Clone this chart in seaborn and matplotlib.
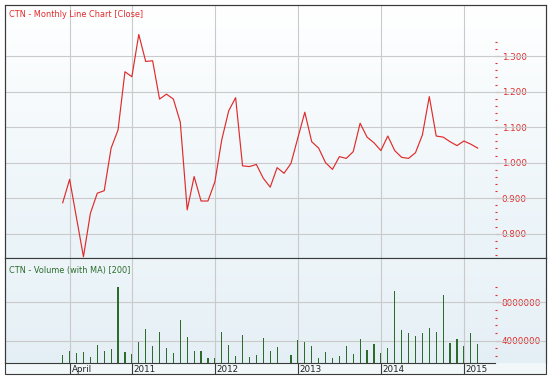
import numpy as np
import pandas as pd
import matplotlib
matplotlib.use("Agg")
import matplotlib.pyplot as plt
import matplotlib.ticker as mticker
import matplotlib.transforms as mtransforms
from matplotlib.colors import LinearSegmentedColormap
from matplotlib.patches import Rectangle
import seaborn as sns

# ---------------- data ----------------
months = pd.date_range("2010-03-01", periods=61, freq="MS")  # Mar 2010 .. Mar 2015
close = [0.887, 0.953, 0.844, 0.735, 0.857, 0.914, 0.921, 1.041, 1.092, 1.256,
         1.242, 1.361, 1.285, 1.287, 1.179, 1.193, 1.179, 1.114, 0.867, 0.961,
         0.892, 0.892, 0.946, 1.065, 1.146, 1.183, 0.991, 0.989, 0.995, 0.956,
         0.931, 0.986, 0.970, 0.998, 1.070, 1.142, 1.059, 1.041, 1.000, 0.981,
         1.017, 1.012, 1.031, 1.111, 1.072, 1.056, 1.034, 1.075, 1.034, 1.015,
         1.012, 1.028, 1.078, 1.186, 1.075, 1.072, 1.059, 1.048, 1.061, 1.052,
         1.041]
volume = [2490000, 2880000, 2710000, 2810000, 2320000, 3510000, 2880000, 3130000, 9620000, 2810000,
          2600000, 3860000, 5200000, 3440000, 4950000, 3230000, 2710000, 6150000, 4390000, 2920000,
          2920000, 2150000, 2210000, 4950000, 3580000, 2390000, 4600000, 2320000, 2490000, 4320000,
          2950000, 3370000, 1500000, 2490000, 4070000, 3830000, 3470000, 2210000, 2840000, 2210000,
          2390000, 3410000, 2600000, 4180000, 3020000, 3620000, 2670000, 3200000, 9230000, 5130000,
          4780000, 4490000, 4780000, 5340000, 4880000, 8810000, 3760000, 4150000, 3470000, 4780000,
          3650000]
x_tick_months = ["2010-04-01", "2011-01-01", "2012-01-01", "2013-01-01", "2014-01-01", "2015-01-01"]
x_tick_labels = ["April", "2011", "2012", "2013", "2014", "2015"]
price_major = [0.8, 0.9, 1.0, 1.1, 1.2, 1.3]
price_minor = [round(0.74 + 0.02 * k, 2) for k in range(31)]
vol_major = [4000000, 8000000]
vol_minor = [2400000 + 800000 * k for k in range(10)]
price_title = "CTN - Monthly Line Chart [Close]"
vol_title = "CTN - Volume (with MA) [200]"

df = pd.DataFrame({"m": np.arange(len(months)), "close": close, "volume": volume})
tick_pos = [months.get_loc(pd.Timestamp(t)) for t in x_tick_months]

# ---------------- layout ----------------
W, H = 550, 381
fig = plt.figure(figsize=(W / 100, H / 100), dpi=100)
fig.patch.set_facecolor("white")

def fx(px):
    return px / W

def fy(py):
    return 1 - py / H

L, R = 4.5, 545.5
top_t, top_b = 5.0, 258.0
vol_t, vol_b = 258.0, 362.7
strip_b = 374.0
x0px, step = 62.7, 6.917
xlim = ((L - x0px) / step, (R - x0px) / step)
axis_frac = (494.5 - L) / (R - L)

RED = "#e02b2b"
GREEN = "#2b6b2b"
FRAME = "#3a3a3a"
GRID = "#cacaca"
FS = 6.3

# strip background
fig.add_artist(Rectangle((fx(L), fy(strip_b)), fx(R) - fx(L), (strip_b - vol_b) / H,
                         transform=fig.transFigure, facecolor="#f2f7fa", edgecolor="none", zorder=0))

ax = fig.add_axes([fx(L), fy(top_b), fx(R) - fx(L), (top_b - top_t) / H])
axv = fig.add_axes([fx(L), fy(vol_b), fx(R) - fx(L), (vol_b - vol_t) / H])

grad = np.linspace(0, 1, 256).reshape(-1, 1)
cm_top = LinearSegmentedColormap.from_list("t", ["#ffffff", "#e9f3f8"])
cm_vol = LinearSegmentedColormap.from_list("v", ["#edf5f9", "#e4eff5"])
ax.imshow(grad, extent=[0, 1, 0, 1], transform=ax.transAxes, cmap=cm_top, aspect="auto", zorder=0)
axv.imshow(grad, extent=[0, 1, 0, 1], transform=axv.transAxes, cmap=cm_vol, aspect="auto", zorder=0)

# ---------------- marks ----------------
sns.lineplot(data=df, x="m", y="close", ax=ax, color=RED, linewidth=0.85)
sns.barplot(data=df, x="m", y="volume", ax=axv, native_scale=True, width=0.16,
            color=GREEN, saturation=1, errorbar=None, linewidth=0)

# ---------------- axes styling ----------------
for a in (ax, axv):
    a.set_xlim(*xlim)
    a.set_xlabel("")
    a.set_ylabel("")
    a.set_axisbelow(True)
    a.grid(True, color=GRID, linewidth=0.8)
    for s in a.spines.values():
        s.set_color(FRAME)
        s.set_linewidth(0.8)
    a.set_xticks(tick_pos)

ax.set_ylim(0.7315, 1.444)
ax.set_yticks(price_major)
ax.tick_params(axis="both", length=0, labelbottom=False, labelleft=False)

axv.set_ylim(1684000, 12650000)
axv.set_yticks(vol_major)
axv.tick_params(axis="y", length=0, labelleft=False)
axv.set_xticklabels(x_tick_labels)
axv.tick_params(axis="x", direction="out", length=8.1, width=0.8, color=FRAME,
                labelsize=FS, labelcolor="#222222", pad=-6.6)
offset = mtransforms.ScaledTranslation(2 / 100, 0, fig.dpi_scale_trans)
for lab in axv.get_xticklabels():
    lab.set_horizontalalignment("left")
    lab.set_transform(lab.get_transform() + offset)
axv.spines["bottom"].set_bounds(xlim[0], (494.5 - x0px) / step)
axv.spines["top"].set_visible(True)

# right-side inner tick axes
sec = ax.secondary_yaxis(axis_frac)
sec.set_yticks(price_major)
sec.yaxis.set_major_formatter(mticker.FormatStrFormatter("%.3f"))
sec.yaxis.set_minor_locator(mticker.FixedLocator(price_minor))
sec.tick_params(which="major", length=3.3, width=0.8, color=RED, labelcolor=RED,
                labelsize=FS, pad=2.0)
sec.tick_params(which="minor", length=1.5, width=0.8, color=RED)
for s in sec.spines.values():
    s.set_visible(False)

secv = axv.secondary_yaxis(axis_frac)
secv.set_yticks(vol_major)
secv.yaxis.set_major_formatter(mticker.FormatStrFormatter("%d"))
secv.yaxis.set_minor_locator(mticker.FixedLocator([v for v in vol_minor if v not in vol_major]))
secv.tick_params(which="major", length=3.3, width=0.8, color=RED, labelcolor=RED,
                 labelsize=FS, pad=2.0)
secv.tick_params(which="minor", length=1.5, width=0.8, color=RED)
for s in secv.spines.values():
    s.set_visible(False)

# titles
ax.text((9 - L) / (R - L), 1 - (14.7 - top_t) / (top_b - top_t), price_title,
        transform=ax.transAxes, ha="left", va="center", color=RED, fontsize=5.9)
axv.text((9 - L) / (R - L), 1 - (270 - vol_t) / (vol_b - vol_t), vol_title,
         transform=axv.transAxes, ha="left", va="center", color=GREEN, fontsize=5.9)

# outer frame
fig.add_artist(Rectangle((fx(L), fy(strip_b)), fx(R) - fx(L), (strip_b - top_t) / H,
                         transform=fig.transFigure, fill=False, edgecolor=FRAME,
                         linewidth=0.8, zorder=10))

fig.savefig("out.png", dpi=100)
